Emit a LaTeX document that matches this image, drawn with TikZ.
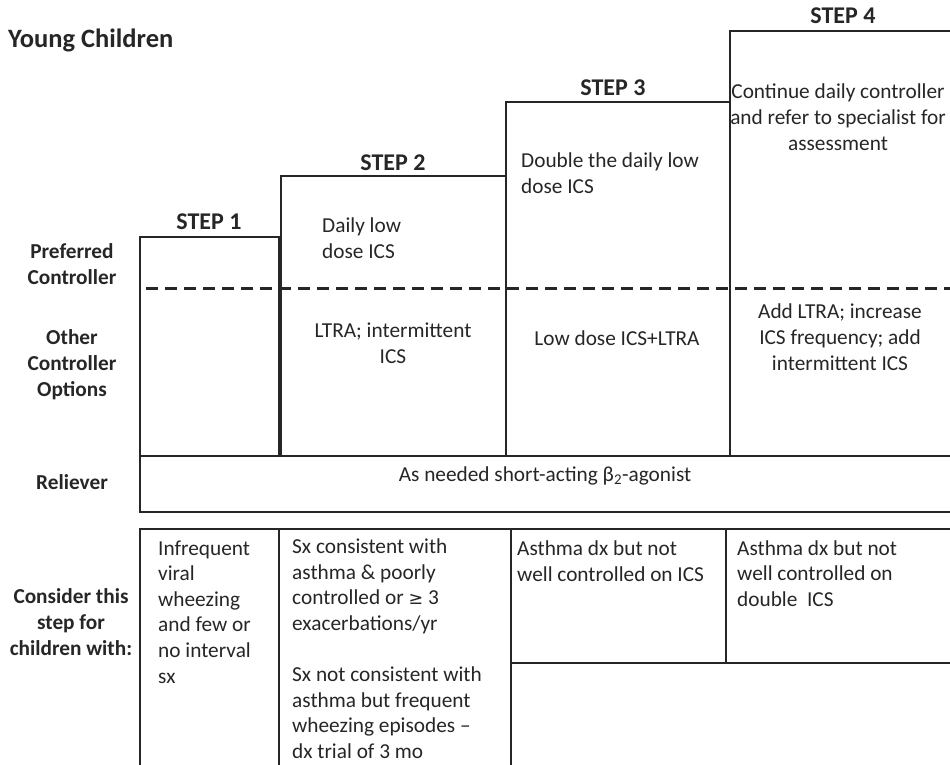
\documentclass[tikz,border=0pt]{standalone}
\usepackage{fontspec}
\setmainfont{Carlito}
\newfontfamily\symfont{DejaVu Sans}
\begin{document}
\begin{tikzpicture}[x=1pt,y=-1pt,
  box/.style={draw=black!85,line width=1.1pt},
  body/.style={font=\fontsize{21.3}{25.6}\selectfont,text=black!85,inner sep=0pt,anchor=base},
  lbl/.style={font=\fontsize{21.3}{25.7}\selectfont\bfseries,text=black!85,inner sep=0pt,align=center,anchor=base},
  steplbl/.style={font=\fontsize{24}{26}\selectfont\bfseries,text=black!85,inner sep=0pt,anchor=base}]
\useasboundingbox (0,0) rectangle (950,764);
% step boxes
\draw[box] (140,456) -- (140,237) -- (279,237) -- (279,456);
\draw[box] (281,456) -- (281,176) -- (506,176) -- (506,456);
\draw[box] (506,456) -- (506,102) -- (730,102) -- (730,456);
\draw[box] (730,456) -- (730,31) -- (952,31);
% reliever box
\draw[box] (952,456) -- (140,456) -- (140,512) -- (952,512);
% dashed line
\draw[black!85,line width=3pt,dash pattern=on 12pt off 7pt] (146,288) -- (952,288);
% bottom table
\draw[box] (140,766) -- (140,529) -- (952,529);
\draw[box] (279,529) -- (279,766);
\draw[box] (511,529) -- (511,766);
\draw[box] (726,529) -- (726,663);
\draw[box] (511,663) -- (952,663);
% titles
\node[font=\fontsize{26.5}{30}\selectfont\bfseries,text=black!85,anchor=base west,inner sep=0pt] (title) at (8,47) {Young Children};
\node[steplbl] (s1) at (209,229) {STEP 1};
\node[steplbl] (s2) at (393,170) {STEP 2};
\node[steplbl] (s3) at (613,95) {STEP 3};
\node[steplbl] (s4) at (843,23) {STEP 4};
% left labels (base anchor = baseline of last line)
\node[lbl] (lpref) at (72,284) {Preferred\\Controller};
\node[lbl] (lother) at (72,396) {Other\\Controller\\Options};
\node[lbl] (lrel) at (72,489) {Reliever};
\node[lbl] (lcons) at (71,655) {Consider this\\step for\\children with:};
% step contents
\node[body,align=left,anchor=base west] (p2) at (322,258) {Daily low\\dose ICS};
\node[body,align=center] (o2) at (393,363) {LTRA; intermittent\\ICS};
\node[body,align=left,anchor=base west] (p3) at (521,193) {Double the daily low\\dose ICS};
\node[body,align=center] (o3) at (617,345) {Low dose ICS+LTRA};
\node[body,align=center] (p4) at (838,150) {Continue daily controller\\and refer to specialist for\\assessment};
\node[body,align=center] (o4) at (840,370) {Add LTRA; increase\\ICS frequency; add\\intermittent ICS};
\node[body] (rel) at (545,481) {As needed short-acting β\textsubscript{2}-agonist};
% consider row
\node[body,align=left,anchor=base west] (c1) at (158,683) {Infrequent\\viral\\wheezing\\and few or\\no interval\\sx};
\node[body,align=left,anchor=base west] (c2) at (292,758.5) {Sx consistent with\\asthma \& poorly\\controlled or {\symfont\fontsize{17.5}{25.6}\selectfont ≥} 3\\exacerbations/yr\\[25.6pt]Sx not consistent with\\asthma but frequent\\wheezing episodes --\\dx trial of 3 mo};
\node[body,align=left,anchor=base west] (c3) at (517,581) {Asthma dx but not\\well controlled on ICS};
\node[body,align=left,anchor=base west] (c4) at (737,606.4) {Asthma dx but not\\well controlled on\\double\ \ ICS};
\end{tikzpicture}
\end{document}
